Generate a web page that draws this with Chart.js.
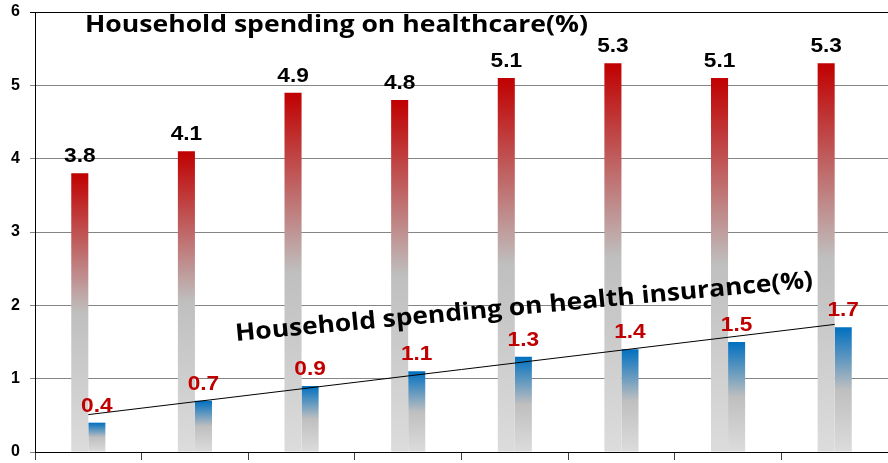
<!DOCTYPE html>
<html>
<head>
<meta charset="utf-8">
<script src="https://cdn.jsdelivr.net/npm/chart.js@4.4.1/dist/chart.umd.min.js"></script>
<style>
html,body{margin:0;padding:0;background:#fff;}
#wrap{width:888px;height:463px;position:relative;}
</style>
</head>
<body>
<div id="wrap"><canvas id="c" width="888" height="463"></canvas></div>
<script>
// ---- data ----
const categories = ['1','2','3','4','5','6','7','8'];
const healthcare = [3.8, 4.1, 4.9, 4.8, 5.1, 5.3, 5.1, 5.3];
const insurance = [0.4, 0.7, 0.9, 1.1, 1.3, 1.4, 1.5, 1.7];
const insuranceTrend = [0.51, null, null, null, null, null, null, 1.74];
const yTicks = [0, 1, 2, 3, 4, 5, 6];
const titleTop = 'Household spending on healthcare(%)';
const titleInsurance = 'Household spending on health insurance(%)';

function barGradient(topColor) {
  return function(ctx) {
    const chart = ctx.chart;
    if (!chart.chartArea || ctx.raw == null) return topColor;
    const ys = chart.scales.y;
    const top = ys.getPixelForValue(ctx.raw);
    const bot = ys.getPixelForValue(0);
    if (!isFinite(top) || !isFinite(bot) || top === bot) return topColor;
    const g = chart.ctx.createLinearGradient(0, top, 0, bot);
    g.addColorStop(0, topColor);
    g.addColorStop(0.5, '#bfbfbf');
    g.addColorStop(1, '#dcdcdc');
    return g;
  };
}

const labelPlugin = {
  id: 'valueLabels',
  afterDatasetsDraw(chart) {
    const c = chart.ctx;
    [[0, '#000000'], [1, '#c00000']].forEach(([di, col]) => {
      const meta = chart.getDatasetMeta(di);
      meta.data.forEach((el, i) => {
        const v = chart.data.datasets[di].data[i];
        c.save();
        c.textAlign = 'center';
        c.textBaseline = 'alphabetic';
        c.font = 'bold 21px "Liberation Sans", Arial, sans-serif';
        c.fillStyle = col;
        c.translate(el.x, el.y - 11);
        c.scale(1.08, 1);
        c.fillText(v.toFixed(1), 0, 0);
        c.restore();
      });
    });
  }
};

function drawFitted(c, text, x, y, width, angleDeg) {
  c.save();
  c.font = 'bold 24px "Open Sans", sans-serif';
  c.fillStyle = '#000';
  c.textAlign = 'left';
  c.textBaseline = 'alphabetic';
  const w = c.measureText(text).width;
  c.translate(x, y);
  c.rotate(angleDeg * Math.PI / 180);
  c.scale(width / w, 1);
  c.fillText(text, 0, 0);
  c.restore();
}

const textPlugin = {
  id: 'annotTexts',
  afterDraw(chart) {
    const c = chart.ctx;
    drawFitted(c, titleTop, 85, 32, 503, 0);
    drawFitted(c, titleInsurance, 236, 341, 580, -5.3);
  }
};

function build() {
  new Chart(document.getElementById('c'), {
    data: {
      labels: categories,
      datasets: [
        { type: 'bar', label: 'healthcare', data: healthcare, backgroundColor: barGradient('#c00000'),
          categoryPercentage: 0.32, barPercentage: 1.0, order: 2 },
        { type: 'bar', label: 'insurance', data: insurance, backgroundColor: barGradient('#0070c0'),
          categoryPercentage: 0.32, barPercentage: 1.0, order: 2 },
        { type: 'line', label: 'trend', data: insuranceTrend, spanGaps: true, borderColor: '#000000',
          borderWidth: 1, pointRadius: 0, fill: false, order: 0 }
      ]
    },
    options: {
      responsive: false,
      animation: false,
      layout: { padding: { top: 12, right: 0, bottom: 0, left: 0 } },
      plugins: { legend: { display: false }, tooltip: { enabled: false }, title: { display: false } },
      scales: {
        x: {
          type: 'category',
          grid: { offset: true, drawOnChartArea: false, drawTicks: true, tickLength: 8, tickColor: '#404040' },
          border: { display: true, color: '#000000', width: 1 },
          ticks: { display: false },
          afterFit(s) { s.height = 11; s.paddingLeft = 0; s.paddingRight = 0; s.paddingTop = 0; s.paddingBottom = 0; }
        },
        y: {
          min: 0, max: 6,
          afterBuildTicks(s) { s.ticks = yTicks.map(v => ({ value: v })); },
          grid: {
            color: (ctx) => (ctx.tick && ctx.tick.value === 6 ? '#000000' : '#858585'),
            tickColor: (ctx) => (ctx.tick && ctx.tick.value === 6 ? '#000000' : '#858585'),
            lineWidth: 1, tickLength: 5, drawTicks: true
          },
          border: { display: true, color: '#000000', width: 1 },
          ticks: { color: '#000000', padding: 10, font: { family: '"Liberation Sans", Arial, sans-serif', size: 16, weight: 'bold' } },
          afterFit(s) { s.width = 35; s.paddingTop = 0; s.paddingBottom = 0; s.paddingLeft = 0; s.paddingRight = 0; }
        }
      }
    },
    plugins: [labelPlugin, textPlugin]
  });
}

if (document.fonts && document.fonts.load) {
  Promise.all([
    document.fonts.load('bold 24px "Open Sans"'),
    document.fonts.load('bold 21px "Liberation Sans"')
  ]).then(build, build);
} else { build(); }
</script>
</body>
</html>
